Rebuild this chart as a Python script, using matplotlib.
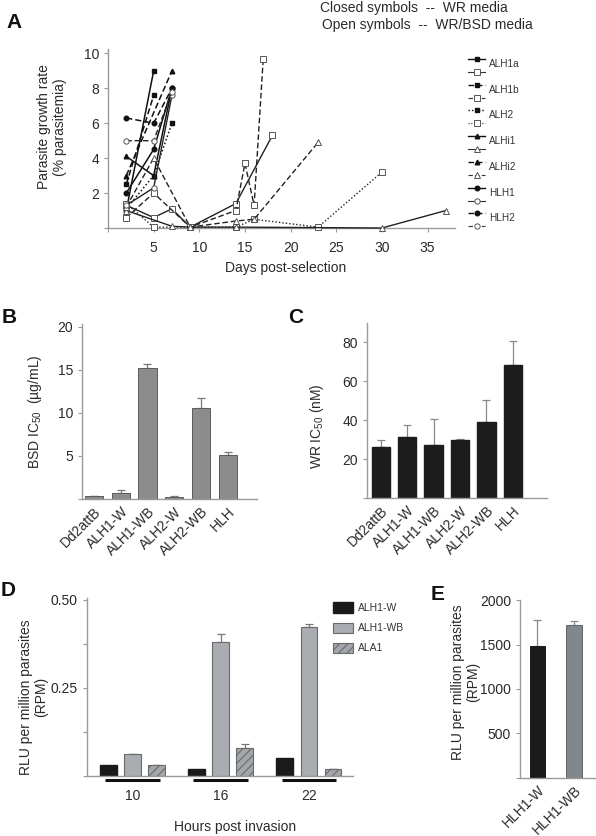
import matplotlib
matplotlib.use("Agg")
import matplotlib.pyplot as plt
import numpy as np

plt.rcParams['font.family'] = ['Liberation Sans', 'DejaVu Sans']
plt.rcParams['mathtext.fontset'] = 'custom'
plt.rcParams['mathtext.rm'] = 'Liberation Sans'
plt.rcParams['hatch.color'] = '#555555'
plt.rcParams['hatch.linewidth'] = 0.8

# ---- panel A data: (days, % parasitemia) ----
alh1a_c_days = [2, 5]
alh1a_c = [1.0, 9.0]
alh1a_o_days = [2, 5, 7, 9, 14, 18]
alh1a_o = [1.3, 0.6, 1.1, 0.05, 1.4, 5.3]
alh1b_c_days = [2, 5]
alh1b_c = [2.5, 7.6]
alh1b_o_days = [2, 5, 9, 14, 15, 16, 17]
alh1b_o = [0.6, 2.0, 0.05, 1.0, 3.7, 1.3, 9.7]
alh2_c_days = [2, 5, 7]
alh2_c = [1.1, 3.0, 6.0]
alh2_o_days = [2, 5, 9, 14, 16, 23, 30]
alh2_o = [1.4, 0.05, 0.05, 0.05, 0.5, 0.05, 3.2]
alhi1_c_days = [2, 5, 7]
alhi1_c = [4.1, 3.0, 8.0]
alhi1_o_days = [2, 7, 9, 14, 30, 37]
alhi1_o = [1.0, 0.1, 0.05, 0.05, 0.0, 1.0]
alhi2_c_days = [2, 7]
alhi2_c = [3.0, 9.0]
alhi2_o_days = [2, 5, 9, 14, 16, 23]
alhi2_o = [1.2, 4.0, 0.05, 0.4, 0.5, 4.9]
hlh1_c_days = [2, 5, 7]
hlh1_c = [2.0, 4.5, 8.0]
hlh1_o_days = [2, 5, 7]
hlh1_o = [1.3, 2.3, 7.6]
hlh2_c_days = [2, 5, 7]
hlh2_c = [6.3, 6.0, 8.0]
hlh2_o_days = [2, 5, 7]
hlh2_o = [5.0, 5.0, 7.8]

line_names = ['ALH1a', 'ALH1b', 'ALH2', 'ALHi1', 'ALHi2', 'HLH1', 'HLH2']

# ---- panel B / C ----
lines_bc = ['Dd2attB', 'ALH1-W', 'ALH1-WB', 'ALH2-W', 'ALH2-WB', 'HLH']
bsd_ic50 = [0.3, 0.7, 15.2, 0.25, 10.5, 5.1]
bsd_err = [0.0, 0.3, 0.5, 0.05, 1.2, 0.3]
wr_ic50 = [26.0, 31.5, 27.5, 29.8, 39.0, 68.5]
wr_err = [4.0, 6.0, 13.0, 0.5, 11.5, 12.5]

# ---- panel D ----
hours = ['10', '16', '22']
alh1_w = [0.031, 0.021, 0.050]
alh1_wb = [0.062, 0.381, 0.422]
alh1_wb_err = [0.0, 0.022, 0.010]
ala1 = [0.031, 0.080, 0.021]
ala1_err = [0.0, 0.010, 0.0]

# ---- panel E ----
lines_e = ['HLH1-W', 'HLH1-WB']
rpm_e = [1487, 1717]
rpm_e_err = [287, 50]

W, H = 596, 836
fig = plt.figure(figsize=(W / 100, H / 100), dpi=100)
spine_col = '#9a9a9a'
txt_col = '#2a2a2a'
fs = 10


def add_ax(l, t, r, b):
    # pixel box -> figure fraction
    ax = fig.add_axes([l / W, 1 - b / H, (r - l) / W, (b - t) / H])
    for s in ['top', 'right']:
        ax.spines[s].set_visible(False)
    for s in ['left', 'bottom']:
        ax.spines[s].set_color(spine_col)
        ax.spines[s].set_linewidth(1.0)
    ax.tick_params(colors=spine_col, labelcolor=txt_col, labelsize=fs,
                   length=3, width=0.8)
    return ax


def ftext(x, y, s, **kw):
    kw.setdefault('fontsize', fs)
    kw.setdefault('color', txt_col)
    kw.setdefault('ha', 'center')
    kw.setdefault('va', 'center')
    fig.text(x / W, 1 - y / H, s, **kw)


# ================= A =================
axA = add_ax(108, 49, 455, 228)
dash = (0, (4, 2))
dot = (0, (1, 1.5))
series = [
    (alh1a_c_days, alh1a_c, '-', 's', True),
    (alh1a_o_days, alh1a_o, '-', 's', False),
    (alh1b_c_days, alh1b_c, dash, 's', True),
    (alh1b_o_days, alh1b_o, dash, 's', False),
    (alh2_c_days, alh2_c, dot, 's', True),
    (alh2_o_days, alh2_o, dot, 's', False),
    (alhi1_c_days, alhi1_c, '-', '^', True),
    (alhi1_o_days, alhi1_o, '-', '^', False),
    (alhi2_c_days, alhi2_c, dash, '^', True),
    (alhi2_o_days, alhi2_o, dash, '^', False),
    (hlh1_c_days, hlh1_c, '-', 'o', True),
    (hlh1_o_days, hlh1_o, '-', 'o', False),
    (hlh2_c_days, hlh2_c, dash, 'o', True),
    (hlh2_o_days, hlh2_o, dash, 'o', False),
]
for d, v, ls, mk, closed in series:
    if closed:
        axA.plot(d, v, linestyle=ls, color='#111111', lw=1.1, marker=mk,
                 ms=3.3, mfc='#111111', mec='#111111', clip_on=False, zorder=3)
    else:
        axA.plot(d, v, linestyle=ls, color='#222222', lw=1.0, marker=mk,
                 ms=3.8, mfc='white', mec='#555555', mew=0.7, clip_on=False,
                 zorder=3)
axA.set_xlim(0, 38)
axA.set_ylim(0, 10.25)
axA.set_xticks(range(0, 36, 5))
axA.set_xticklabels([''] + [str(i) for i in range(5, 36, 5)])
axA.set_yticks(range(0, 11, 2))
axA.set_yticklabels([''] + [str(i) for i in range(2, 11, 2)])
axA.tick_params(axis='x', pad=6)

ftext(52, 127, 'Parasite growth rate\n(% parasitemia)', rotation=90,
      linespacing=1.1)
ftext(286, 268, 'Days post-selection')
ftext(14, 22, 'A', fontsize=15, fontweight='bold', color='#111111')
ftext(320, 8, 'Closed symbols  --  WR media', ha='left')
ftext(322, 25, 'Open symbols  --  WR/BSD media', ha='left')

# legend for A, drawn in pixel space
axL = fig.add_axes([0, 0, 1, 1])
axL.set_xlim(0, W)
axL.set_ylim(H, 0)
axL.axis('off')
for i, (d, v, ls, mk, closed) in enumerate(series):
    y = 59 + (i // 2) * 25.7 + (i % 2) * 13
    if closed:
        axL.plot([468, 485], [y, y], linestyle=ls, color='#111111', lw=1.0)
        axL.plot([476.5], [y], marker=mk, ms=3.3, color='#111111')
    else:
        axL.plot([468, 485], [y, y], linestyle=ls, color='#333333', lw=0.8)
        axL.plot([476.5], [y], marker=mk, ms=3.8, mfc='white',
                 mec='#555555', mew=0.7)
for j, name in enumerate(line_names):
    axL.text(489, 64 + j * 25.7, name, fontsize=7.2, color='#333333',
             va='center', ha='left')

# ================= B =================
axB = add_ax(82, 324, 257, 499)
xb = np.arange(len(lines_bc))
axB.bar(xb, bsd_ic50, width=0.68, color='#8c8c8c', edgecolor='#5a5a5a',
        linewidth=0.7, zorder=2)
axB.errorbar(xb, bsd_ic50, yerr=[np.zeros(len(xb)), bsd_err], fmt='none',
             ecolor='#777777', elinewidth=0.9, capsize=3, capthick=0.9,
             zorder=1)
axB.set_xlim(-0.45, 6.1)
axB.set_ylim(0, 20.3)
axB.set_yticks([0, 5, 10, 15, 20])
axB.set_yticklabels(['', '5', '10', '15', '20'])
axB.set_xticks(xb)
axB.set_xticklabels(lines_bc, rotation=45, ha='right',
                    rotation_mode='anchor')
axB.tick_params(axis='x', length=0, pad=4)
ftext(35, 412, r'BSD IC$_{50}$  (µg/mL)', rotation=90)
ftext(9, 318, 'B', fontsize=15, fontweight='bold', color='#111111')

# ================= C =================
axC = add_ax(367, 323, 547, 498)
axC.bar(xb, wr_ic50, width=0.69, color='#1c1c1c', edgecolor='#1c1c1c',
        zorder=2)
axC.errorbar(xb, wr_ic50, yerr=[np.zeros(len(xb)), wr_err], fmt='none',
             ecolor='#888888', elinewidth=0.9, capsize=3, capthick=0.9,
             zorder=1)
axC.set_xlim(-0.52, 6.29)
axC.set_ylim(0, 90)
axC.set_yticks([0, 20, 40, 60, 80])
axC.set_yticklabels(['', '20', '40', '60', '80'])
axC.set_xticks(xb)
axC.set_xticklabels(lines_bc, rotation=45, ha='right',
                    rotation_mode='anchor')
axC.tick_params(axis='x', length=0, pad=4)
ftext(317, 426, r'WR IC$_{50}$ (nM)', rotation=90)
ftext(296, 318, 'C', fontsize=15, fontweight='bold', color='#111111')

# ================= D =================
axD = add_ax(87, 598, 353, 776)
xd = np.arange(len(hours))
off = 0.274
bw = 0.19
axD.bar(xd - off, alh1_w, width=bw, color='#1a1a1a', edgecolor='#1a1a1a',
        label='ALH1-W', zorder=2)
axD.bar(xd, alh1_wb, width=bw, color='#a9adb2', edgecolor='#6a6a6a',
        linewidth=0.8, label='ALH1-WB', zorder=2)
axD.bar(xd + off, ala1, width=bw, color='#a3a7ab', edgecolor='#6a6a6a',
        linewidth=0.8, hatch='////', label='ALA1', zorder=2)
axD.errorbar(xd, alh1_wb, yerr=[np.zeros(3), alh1_wb_err], fmt='none',
             ecolor='#777777', elinewidth=0.9, capsize=3, capthick=0.9,
             zorder=1)
axD.errorbar(xd + off, ala1, yerr=[np.zeros(3), ala1_err], fmt='none',
             ecolor='#777777', elinewidth=0.9, capsize=3, capthick=0.9,
             zorder=1)
axD.set_xlim(-0.516, 2.5)
axD.set_ylim(0, 0.505)
axD.set_yticks([0, 0.125, 0.25, 0.375, 0.5])
axD.set_yticklabels(['', '', '0.25', '', '0.50'])
axD.set_xticks(xd)
axD.set_xticklabels(hours)
axD.tick_params(axis='x', length=0, pad=9)
trD = axD.get_xaxis_transform()
for x in xd:
    axD.plot([x - 0.31, x + 0.31], [-0.025, -0.025], color='#111111', lw=2.2,
             transform=trD, clip_on=False, solid_capstyle='butt')
axD.legend(loc='upper left', bbox_to_anchor=(0.925, 0.975), frameon=False,
           fontsize=7.5, handlelength=1.9, handleheight=1.15,
           labelspacing=0.9, handletextpad=0.5, borderaxespad=0,
           borderpad=0, labelcolor='#333333')
ftext(34, 697, 'RLU per million parasites\n(RPM)', rotation=90,
      linespacing=1.1)
ftext(235, 827, 'Hours post invasion')
ftext(8, 591, 'D', fontsize=15, fontweight='bold', color='#111111')

# ================= E =================
axE = add_ax(520, 600, 596, 777.5)
xe = np.arange(len(lines_e))
axE.bar(xe, rpm_e, width=0.43, color=['#1a1a1a', '#80878d'],
        edgecolor=['#1a1a1a', '#5e6468'], linewidth=0.7, zorder=2)
axE.errorbar(xe, rpm_e, yerr=[np.zeros(2), rpm_e_err], fmt='none',
             ecolor='#888888', elinewidth=0.9, capsize=3, capthick=0.9,
             zorder=1)
axE.set_xlim(-0.48, 1.61)
axE.set_ylim(0, 2005)
axE.set_yticks([0, 500, 1000, 1500, 2000])
axE.set_yticklabels(['', '500', '1000', '1500', '2000'])
axE.set_xticks(xe)
axE.set_xticklabels(lines_e, rotation=45, ha='right', rotation_mode='anchor')
axE.tick_params(axis='x', length=0, pad=4)
ftext(466, 682, 'RLU per million parasites\n(RPM)', rotation=90,
      linespacing=1.1)
ftext(438, 595, 'E', fontsize=15, fontweight='bold', color='#111111')

fig.savefig('out.png', dpi=100)
